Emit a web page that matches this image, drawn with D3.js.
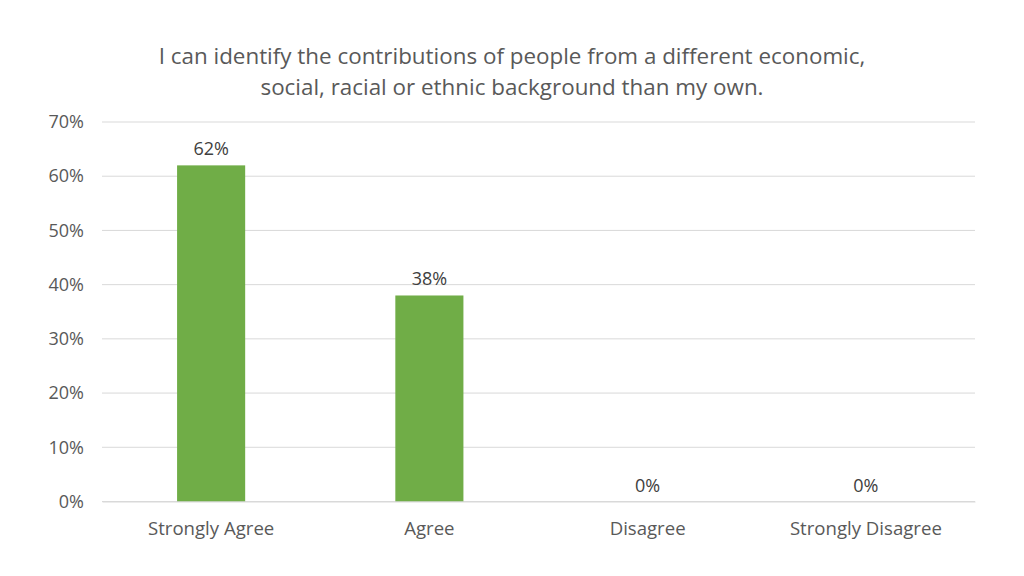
<!DOCTYPE html>
<html><head><meta charset="utf-8">
<script src="https://cdn.jsdelivr.net/npm/d3@7"></script>
<style>body{margin:0;background:#fff;}svg{display:block;font-family:"Open Sans",sans-serif;}</style>
</head><body><svg id="c" width="1024" height="576"></svg>
<script>
const categories = ["Strongly Agree","Agree","Disagree","Strongly Disagree"];
const values = [0.62,0.38,0,0];
const yTicks = [0,0.1,0.2,0.3,0.4,0.5,0.6,0.7];
const titleLines = ["I can identify the contributions of people from a different economic,","social, racial or ethnic background than my own."];

(function(){
const svg = d3.select("#c");
const pl=102, pr=975, pt=122, pb=501.5;
const x = d3.scaleBand().domain(categories).range([pl,pr]).paddingInner(0.688).paddingOuter(0.344);
const y = d3.scaleLinear().domain([0,0.7]).range([pb,pt]);
const fmt = d3.format(".0%");
const ff = "'Open Sans',sans-serif";

svg.append("g").selectAll("line").data(yTicks).join("line")
  .attr("x1",pl).attr("x2",pr).attr("y1",d=>y(d)).attr("y2",d=>y(d))
  .attr("stroke","#d9d9d9").attr("stroke-width",1);

const ya = svg.append("g").attr("transform",`translate(${pl},0)`)
  .call(d3.axisLeft(y).tickValues(yTicks).tickFormat(fmt).tickSize(0).tickPadding(18));
ya.select(".domain").remove();
ya.selectAll("text").attr("fill","#595959").style("font-size","18px").style("font-family",ff);

svg.append("g").selectAll("rect").data(values).join("rect")
  .attr("x",(d,i)=>x(categories[i])).attr("width",x.bandwidth())
  .attr("y",d=>y(d)).attr("height",d=>y(0)-y(d)).attr("fill","#70ad47");

svg.append("g").selectAll("text").data(values).join("text")
  .attr("x",(d,i)=>x(categories[i])+x.bandwidth()/2).attr("y",d=>y(d)-10)
  .attr("text-anchor","middle").attr("fill","#404040").style("font-size","18px").style("font-family",ff).text(d=>fmt(d));

const xa = svg.append("g").attr("transform",`translate(0,${pb})`)
  .call(d3.axisBottom(x).tickSize(0).tickPadding(20));
xa.select(".domain").attr("stroke","#d9d9d9");
xa.selectAll("text").attr("fill","#595959").style("font-size","18.6px").style("font-family",ff);

svg.append("g").selectAll("text").data(titleLines).join("text")
  .attr("x",512).attr("y",(d,i)=>64+i*31).attr("text-anchor","middle")
  .attr("fill","#595959").style("font-size","22.4px").style("font-family",ff).text(d=>d);
})();
</script></body></html>
